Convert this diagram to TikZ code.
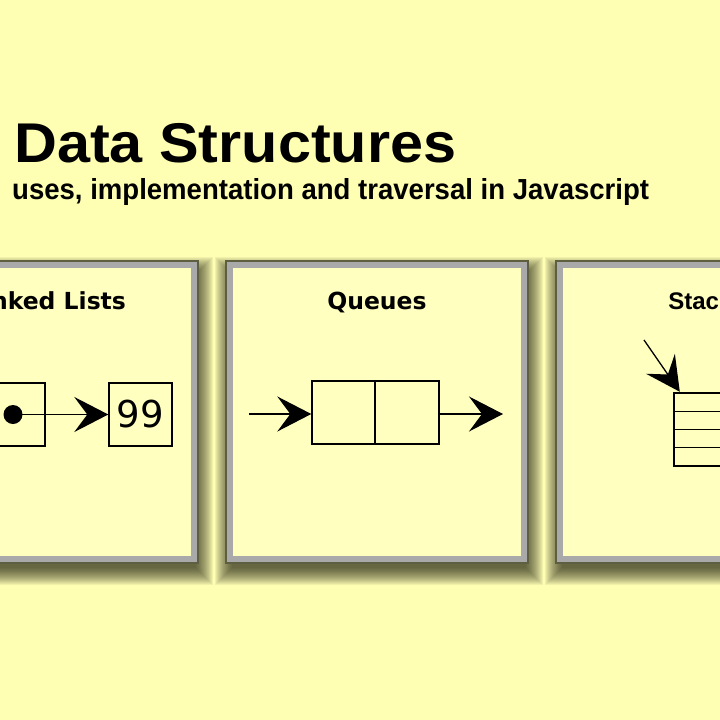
\documentclass[tikz,border=0pt]{standalone}
\usepackage{fontspec}
\setmainfont{Liberation Sans}
\newfontfamily\djv{DejaVu Sans}
\usetikzlibrary{arrows.meta,calc}
\definecolor{bgc}{HTML}{FFFFB4}
\definecolor{panelin}{HTML}{FFFFC0}
\definecolor{panelrim}{HTML}{A9A9A9}
\definecolor{paneledge}{HTML}{5E5E40}
\definecolor{shadowc}{HTML}{202010}
\newcommand\mypanelshadow[1]{%
  \foreach \r in {13,12,...,-4}{
    \fill[shadowc, opacity=0.06]
      ($(#1.south west)+(2-\r,-9-\r)$) rectangle ($(#1.north east)+(2+\r,-9+\r)$);
  }}
\tikzset{
  panel/.style={draw=paneledge, line width=1.5pt, fill=panelrim, minimum width=302pt, minimum height=302pt, inner sep=0pt},
  panelinner/.style={fill=panelin, minimum width=288pt, minimum height=288pt, inner sep=0pt},
  ptitle/.style={anchor=base, font=\djv\bfseries\fontsize{23.5pt}{26pt}\selectfont},
  cell/.style={draw=black, line width=1.4pt, inner sep=0pt, minimum width=63pt, minimum height=63pt},
  scell/.style={draw=black, line width=1.4pt, inner sep=0pt, minimum width=66pt, minimum height=18.25pt},
  arr/.style={line width=1.3pt, -{Stealth[length=34pt,width=35pt,inset=13pt]}}
}
\begin{document}
\begin{tikzpicture}[x=1pt,y=1pt]
\useasboundingbox (0,0) rectangle (720,-720);
\fill[bgc] (0,0) rectangle (720,-720);
% panel frames (positions only, for the shadows)
\coordinate (c1) at (47,-412);
\coordinate (c2) at (377,-412);
\coordinate (c3) at (707,-412);
\path (c1) node[minimum width=302pt, minimum height=302pt, inner sep=0pt] (f1) {};
\path (c2) node[minimum width=302pt, minimum height=302pt, inner sep=0pt] (f2) {};
\path (c3) node[minimum width=302pt, minimum height=302pt, inner sep=0pt] (f3) {};
\mypanelshadow{f1}
\mypanelshadow{f2}
\mypanelshadow{f3}
% panels
\node[panel] (p1) at (c1) {};
\node[panel] (p2) at (c2) {};
\node[panel] (p3) at (c3) {};
\node[panelinner] (i1) at (p1) {};
\node[panelinner] (i2) at (p2) {};
\node[panelinner] (i3) at (p3) {};
% titles
\node[anchor=base west, inner sep=0pt, font=\bfseries\fontsize{56pt}{60pt}\selectfont, xscale=1.06] (title) at (14,-162.7) {Data Structures};
\node[anchor=base west, inner sep=0pt, font=\bfseries\fontsize{29pt}{32pt}\selectfont, xscale=0.95] (sub) at (12,-199.5) {uses, implementation and traversal in Javascript};
\node[ptitle] (t1) at (47,-309) {Linked Lists};
\node[ptitle] (t2) at (377,-309) {Queues};
\node[ptitle, font=\bfseries\fontsize{24pt}{26pt}\selectfont] (t3) at (707,-309) {Stacks};
% linked list
\node[cell] (l1) at (13.5,-414.5) {};
\node[cell, font=\djv\fontsize{37pt}{40pt}\selectfont] (l2) at (140.5,-414.5) {99};
\coordinate (ldot) at (13,-414.5);
\fill (ldot) circle (9.5pt);
\draw[arr] (ldot) -- (l2.west);
% queue
\node[cell] (q1) at (343.5,-412.5) {};
\node[cell, minimum width=64pt] (q2) at (407,-412.5) {};
\coordinate (qin) at (249,-414);
\coordinate (qout) at (503,-414);
\draw[arr] (qin) -- (q1.west |- qin);
\draw[arr] (q2.east |- qout) -- (qout);
% stack
\node[scell] (s1) at (707,-402.1) {};
\node[scell] (s2) at (707,-420.4) {};
\node[scell] (s3) at (707,-438.6) {};
\node[scell] (s4) at (707,-456.9) {};
\coordinate (sin) at (644,-340);
\draw[arr] (sin) -- ($(s1.north west)+(6.5,0.5)$);
\end{tikzpicture}
\end{document}
